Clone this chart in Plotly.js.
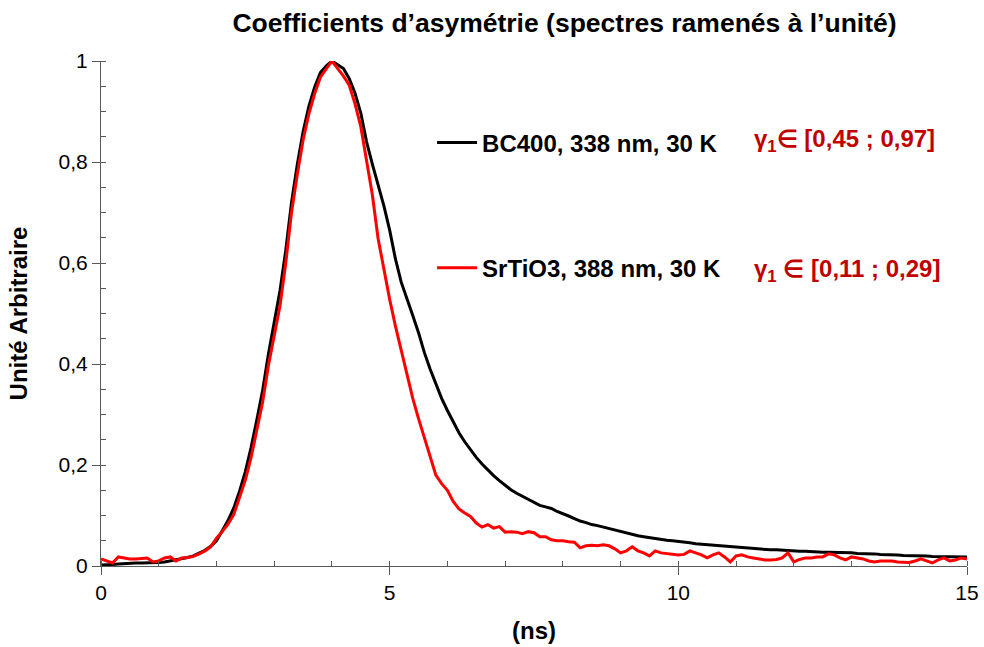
<!DOCTYPE html>
<html>
<head>
<meta charset="utf-8">
<script src="https://cdn.plot.ly/plotly-3.0.1.min.js"></script>
<style>html,body{margin:0;padding:0;background:#fff;}#chart{width:984px;height:647px;}</style>
</head>
<body>
<div id="chart"></div>
<script>
// Time axis (ns)
const time = [0.0,0.1,0.2,0.3,0.4,0.5,0.6,0.7,0.8,0.9,1.0,1.1,1.2,1.3,1.4,1.5,1.6,1.7,1.8,1.9,2.0,2.1,2.2,2.3,2.4,2.5,2.6,2.7,2.8,2.9,3.0,3.1,3.2,3.3,3.4,3.5,3.6,3.7,3.8,3.9,4.0,4.1,4.2,4.3,4.4,4.5,4.6,4.7,4.8,4.9,5.0,5.1,5.2,5.3,5.4,5.5,5.6,5.7,5.8,5.9,6.0,6.1,6.2,6.3,6.4,6.5,6.6,6.7,6.8,6.9,7.0,7.1,7.2,7.3,7.4,7.5,7.6,7.7,7.8,7.9,8.0,8.1,8.2,8.3,8.4,8.5,8.6,8.7,8.8,8.9,9.0,9.1,9.2,9.3,9.4,9.5,9.6,9.7,9.8,9.9,10.0,10.1,10.2,10.3,10.4,10.5,10.6,10.7,10.8,10.9,11.0,11.1,11.2,11.3,11.4,11.5,11.6,11.7,11.8,11.9,12.0,12.1,12.2,12.3,12.4,12.5,12.6,12.7,12.8,12.9,13.0,13.1,13.2,13.3,13.4,13.5,13.6,13.7,13.8,13.9,14.0,14.1,14.2,14.3,14.4,14.5,14.6,14.7,14.8,14.9,15.0];

// BC400, 338 nm, 30 K (normalised)
const bc400 = [0.002,0.002,0.003,0.004,0.005,0.006,0.006,0.006,0.006,0.006,0.007,0.008,0.010,0.013,0.015,0.017,0.020,0.025,0.031,0.039,0.050,0.070,0.090,0.115,0.148,0.187,0.235,0.290,0.348,0.420,0.485,0.545,0.625,0.720,0.795,0.860,0.910,0.948,0.977,0.990,1.000,0.993,0.985,0.965,0.936,0.897,0.840,0.796,0.755,0.713,0.665,0.608,0.562,0.527,0.496,0.462,0.423,0.390,0.360,0.332,0.308,0.285,0.264,0.246,0.230,0.215,0.202,0.190,0.179,0.169,0.160,0.151,0.144,0.138,0.131,0.125,0.120,0.117,0.114,0.108,0.104,0.099,0.094,0.089,0.086,0.082,0.080,0.077,0.074,0.071,0.068,0.066,0.063,0.060,0.058,0.056,0.054,0.052,0.051,0.050,0.049,0.048,0.046,0.044,0.043,0.042,0.041,0.040,0.039,0.038,0.037,0.036,0.036,0.035,0.034,0.033,0.032,0.032,0.031,0.031,0.030,0.029,0.029,0.028,0.028,0.027,0.027,0.027,0.026,0.026,0.026,0.025,0.025,0.024,0.024,0.023,0.023,0.022,0.022,0.021,0.021,0.020,0.020,0.020,0.019,0.019,0.019,0.018,0.018,0.018,0.018];

// SrTiO3, 388 nm, 30 K (normalised)
const srtio3 = [0.014,0.010,0.006,0.018,0.016,0.014,0.014,0.015,0.016,0.008,0.010,0.016,0.018,0.010,0.016,0.017,0.019,0.024,0.030,0.038,0.055,0.068,0.083,0.102,0.135,0.170,0.215,0.268,0.325,0.397,0.460,0.515,0.600,0.700,0.775,0.843,0.895,0.935,0.968,0.985,1.000,0.985,0.970,0.952,0.915,0.870,0.800,0.735,0.648,0.585,0.528,0.475,0.427,0.378,0.332,0.292,0.255,0.215,0.180,0.163,0.150,0.128,0.113,0.105,0.098,0.085,0.077,0.082,0.075,0.078,0.067,0.068,0.067,0.064,0.068,0.066,0.058,0.058,0.052,0.050,0.050,0.048,0.047,0.036,0.040,0.041,0.040,0.042,0.040,0.034,0.026,0.030,0.038,0.030,0.026,0.020,0.030,0.026,0.025,0.023,0.022,0.023,0.030,0.026,0.022,0.016,0.022,0.026,0.018,0.008,0.020,0.022,0.018,0.016,0.014,0.012,0.012,0.013,0.016,0.026,0.008,0.013,0.016,0.016,0.018,0.018,0.024,0.022,0.016,0.012,0.018,0.016,0.014,0.010,0.008,0.010,0.010,0.010,0.008,0.008,0.007,0.010,0.014,0.010,0.006,0.012,0.016,0.010,0.012,0.016,0.014];

const seriesNames = ['BC400, 338 nm, 30 K', 'SrTiO3, 388 nm, 30 K'];
const gammaLabels = ['γ<sub>1</sub>∈ [0,45 ; 0,97]', 'γ<sub>1</sub> ∈ [0,11 ; 0,29]'];
const chartTitle = 'Coefficients d’asymétrie (spectres ramenés à l’unité)';
const xTitle = '(ns)';
const yTitle = 'Unité Arbitraire';

const FONT = 'Liberation Sans, Arial, sans-serif';
const AXC = '#595959';

const traces = [
  {x: time, y: bc400, type: 'scatter', mode: 'lines', name: seriesNames[0],
   line: {color: '#000000', width: 3}, legend: 'legend'},
  {x: time, y: srtio3, type: 'scatter', mode: 'lines', name: seriesNames[1],
   line: {color: '#FF0000', width: 3}, legend: 'legend2'},
  // invisible helper so overlay axes (inner halves of crossing ticks) get drawn
  {x: [0], y: [0], xaxis: 'x2', yaxis: 'y2', mode: 'markers', marker: {opacity: 0}, showlegend: false, hoverinfo: 'skip'}
];

const layout = {
  width: 984, height: 647,
  margin: {l: 101, r: 17, t: 61, b: 81},
  paper_bgcolor: '#ffffff', plot_bgcolor: '#ffffff',
  separators: ', ',
  font: {family: FONT, color: '#000000'},
  title: {text: '<b>' + chartTitle + '</b>', font: {family: FONT, size: 26.5, color: '#000000'},
          x: 0.5737, xref: 'container', xanchor: 'center', y: 0.965, yref: 'container', yanchor: 'middle'},
  xaxis: {
    range: [0, 15], dtick: 5, tick0: 0, showgrid: false, zeroline: false,
    showline: true, linecolor: AXC, linewidth: 1,
    ticks: 'outside', ticklen: 8, tickcolor: AXC, tickwidth: 1,
    minor: {dtick: 1, ticks: 'inside', ticklen: 5, tickcolor: AXC, showgrid: false},
    tickfont: {family: FONT, size: 21, color: '#000000'},
    title: {text: '<b>' + xTitle + '</b>', font: {family: FONT, size: 24, color: '#000000'}, standoff: 18},
    fixedrange: true
  },
  yaxis: {
    range: [0, 1], dtick: 0.2, tick0: 0, showgrid: false, zeroline: false,
    showline: true, linecolor: AXC, linewidth: 1,
    ticks: 'outside', ticklen: 8, tickcolor: AXC, tickwidth: 1,
    minor: {dtick: 0.05, ticks: 'inside', ticklen: 5, tickcolor: AXC, showgrid: false},
    tickfont: {family: FONT, size: 21, color: '#000000'},
    title: {text: '<b>' + yTitle + '</b>', font: {family: FONT, size: 24, color: '#000000'}, standoff: 24},
    fixedrange: true
  },
  xaxis2: {overlaying: 'x', matches: 'x', anchor: 'y', range: [0, 15], dtick: 5, tick0: 0,
    showgrid: false, zeroline: false, showline: false, ticks: 'inside', ticklen: 5,
    tickcolor: AXC, showticklabels: false, fixedrange: true},
  yaxis2: {overlaying: 'y', matches: 'y', anchor: 'x', range: [0, 1], dtick: 0.2, tick0: 0,
    showgrid: false, zeroline: false, showline: false, ticks: 'inside', ticklen: 5,
    tickcolor: AXC, showticklabels: false, fixedrange: true},
  legend: {x: 0.3823, xanchor: 'left', y: 0.8376, yanchor: 'middle', bgcolor: 'rgba(0,0,0,0)',
    borderwidth: 0, itemwidth: 40, font: {family: FONT, size: 24, color: '#000000', weight: 'bold'}},
  legend2: {x: 0.3823, xanchor: 'left', y: 0.590, yanchor: 'middle', bgcolor: 'rgba(0,0,0,0)',
    borderwidth: 0, itemwidth: 40, font: {family: FONT, size: 24, color: '#000000', weight: 'bold'}},
  annotations: [
    {text: '<b>' + gammaLabels[0] + '</b>', xref: 'paper', yref: 'paper', x: 0.752, y: 0.843,
     xanchor: 'left', yanchor: 'middle', showarrow: false, font: {family: FONT, size: 24, color: '#C00000'}},
    {text: '<b>' + gammaLabels[1] + '</b>', xref: 'paper', yref: 'paper', x: 0.752, y: 0.585,
     xanchor: 'left', yanchor: 'middle', showarrow: false, font: {family: FONT, size: 24, color: '#C00000'}}
  ],
  showlegend: true
};

Plotly.newPlot('chart', traces, layout, {displayModeBar: false, staticPlot: true});
</script>
</body>
</html>
